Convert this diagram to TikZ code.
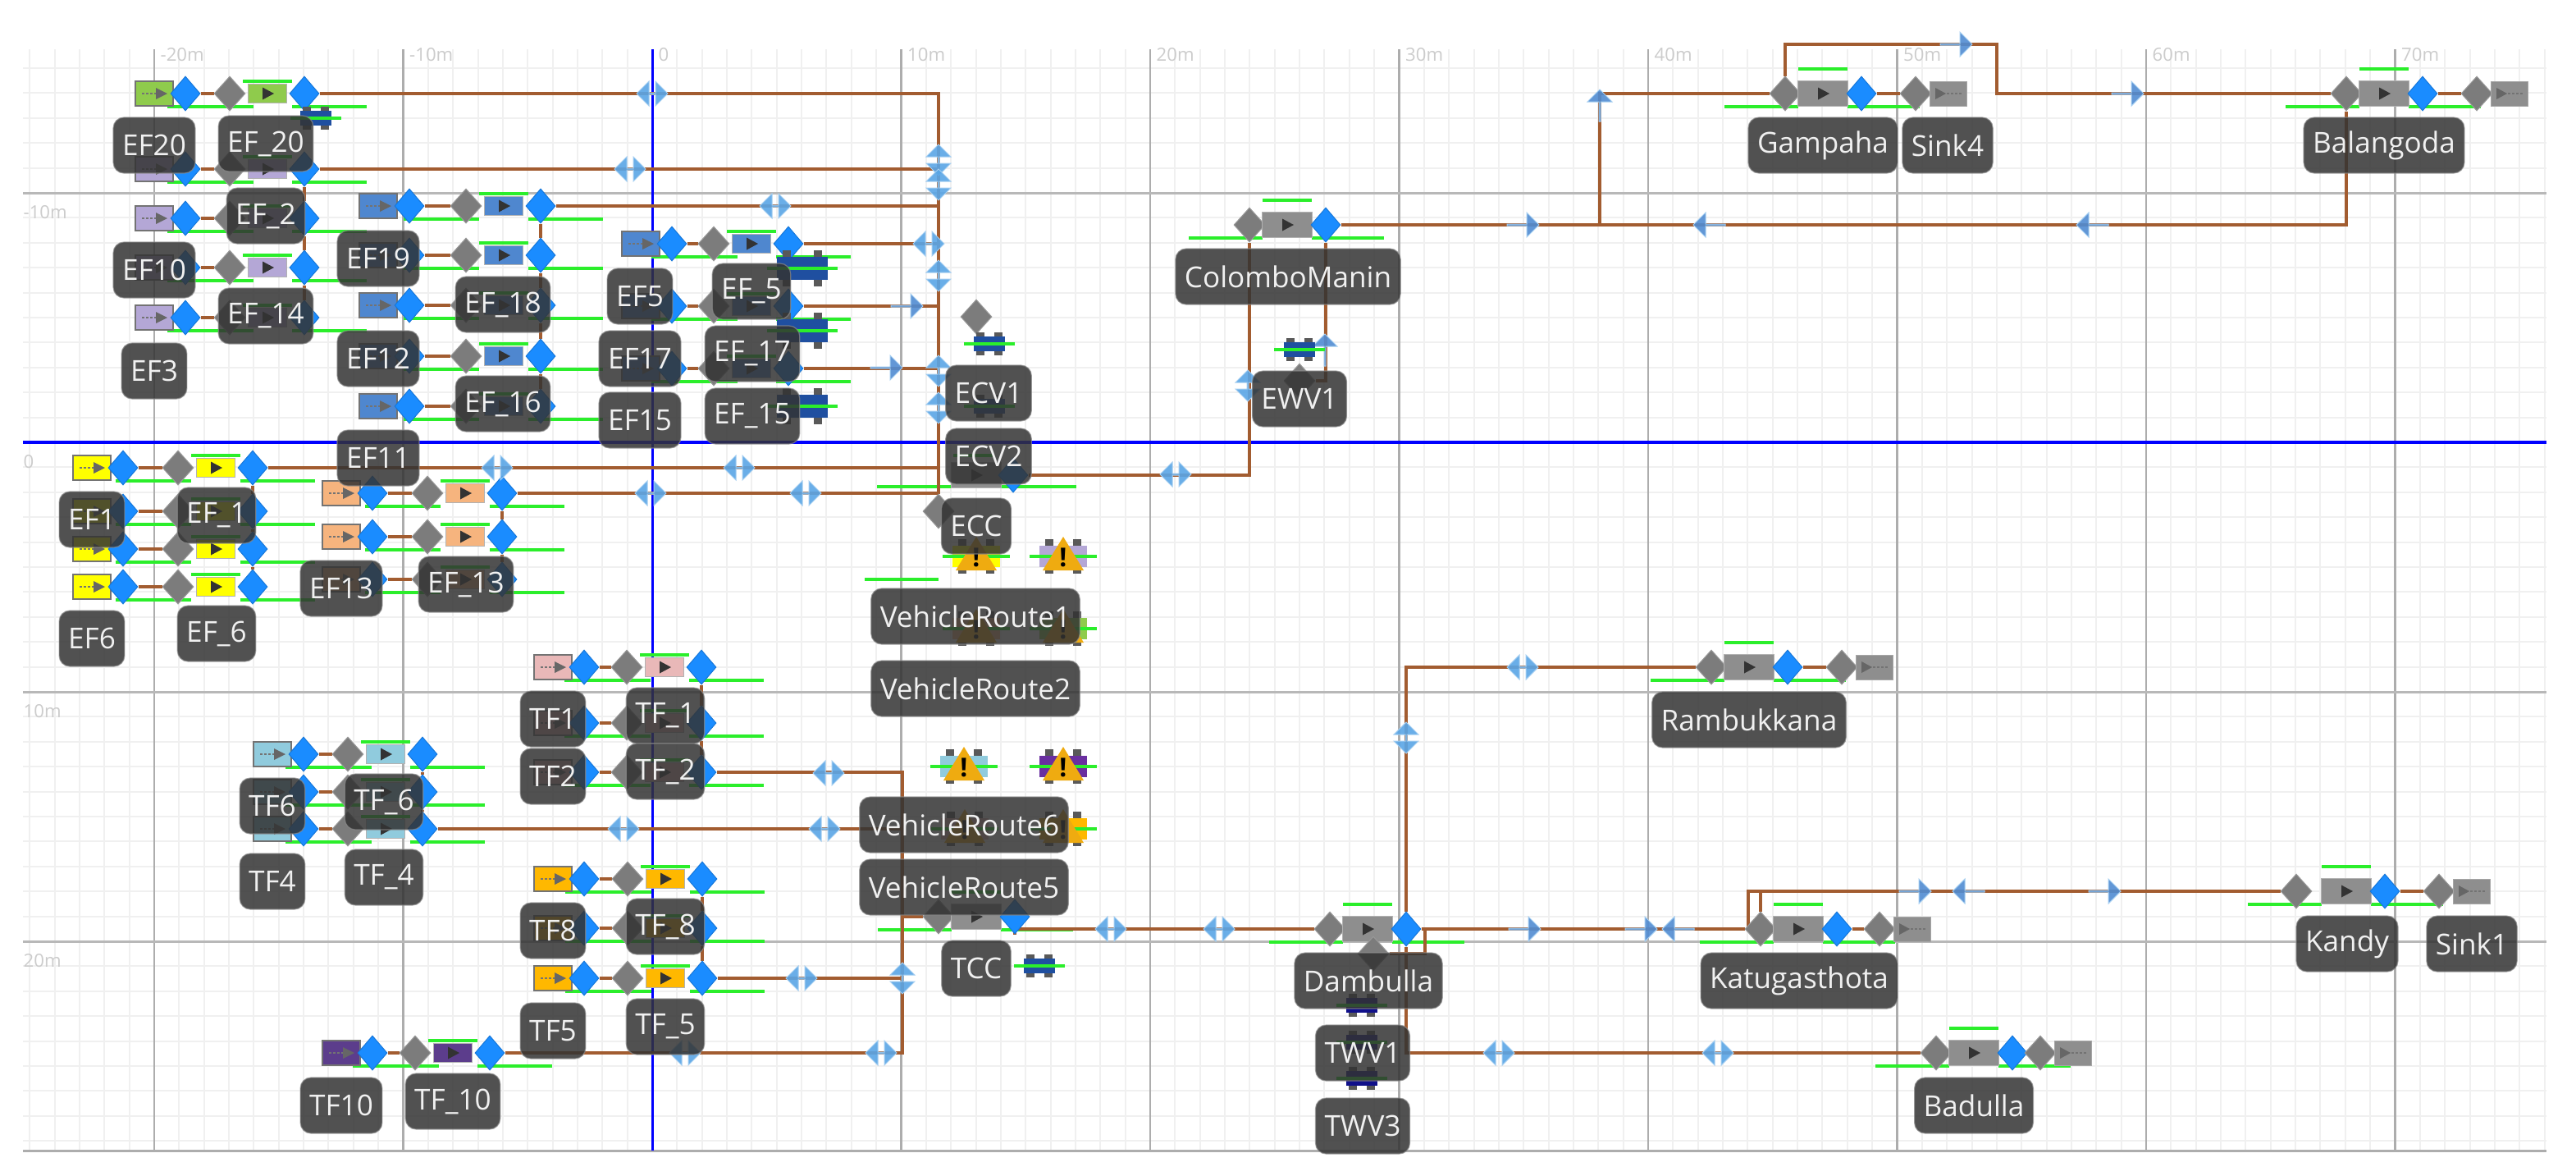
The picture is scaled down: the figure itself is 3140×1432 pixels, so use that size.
\documentclass[tikz,border=0pt]{standalone}
\usepackage{fontspec}
\setmainfont{Open Sans}
\usepackage{xcolor}
\usetikzlibrary{shapes.geometric, shapes.arrows}

\definecolor{linkc}{HTML}{A25C30}
\definecolor{barc}{HTML}{2BEE2B}
\definecolor{dia}{HTML}{1A8CFF}
\definecolor{grayd}{HTML}{7C7C7C}
\definecolor{segc}{HTML}{8E8E8E}
\definecolor{markc}{HTML}{5AA6E6}
\definecolor{vehc}{HTML}{1F4FA0}
\definecolor{navyc}{HTML}{10108A}
\definecolor{limec}{HTML}{8FCB4C}
\definecolor{lilac}{HTML}{B4A7D6}
\definecolor{steel}{HTML}{4F87CF}
\definecolor{yell}{HTML}{FFFF00}
\definecolor{peach}{HTML}{F6B47E}
\definecolor{pinkc}{HTML}{E9B8B8}
\definecolor{aqua}{HTML}{90CBDD}
\definecolor{amber}{HTML}{FFB800}
\definecolor{plum}{HTML}{5C3D8C}
\definecolor{violet}{HTML}{6A2FA0}

\pgfdeclarelayer{grid}
\pgfdeclarelayer{links}
\pgfdeclarelayer{labels}
\pgfsetlayers{grid,links,main,labels}

\tikzset{
  link/.style={draw=linkc, line width=0.4mm},
  bar/.style={draw=barc, line width=0.36mm},
  bluedia/.style={diamond, fill=dia, draw=dia!85!black, line width=0.1mm, inner sep=0pt, minimum width=3.6mm, minimum height=4.2mm},
  graydia/.style={diamond, fill=grayd, draw=gray!80, line width=0.1mm, inner sep=0pt, minimum width=3.8mm, minimum height=4.2mm},
  srcbox/.style={rectangle, draw=black!55, line width=0.12mm, inner sep=0pt, minimum width=4.6mm, minimum height=3mm,
    path picture={
      \draw[black!55, line width=0.25mm, dash pattern=on 0.3mm off 0.2mm] ([xshift=-1.5mm]path picture bounding box.center) -- ([xshift=0.3mm]path picture bounding box.center);
      \fill[black!60] ([xshift=0.2mm,yshift=-0.7mm]path picture bounding box.center) -- ([xshift=0.2mm,yshift=0.7mm]path picture bounding box.center) -- ([xshift=1.6mm]path picture bounding box.center) -- cycle;}},
  sinkbox/.style={rectangle, fill=segc, draw=gray!70, line width=0.1mm, inner sep=0pt, minimum width=4.5mm, minimum height=3mm,
    path picture={
      \fill[black!60] ([xshift=-1.6mm,yshift=-0.7mm]path picture bounding box.center) -- ([xshift=-1.6mm,yshift=0.7mm]path picture bounding box.center) -- ([xshift=-0.3mm]path picture bounding box.center) -- cycle;
      \draw[black!55, line width=0.25mm, dash pattern=on 0.3mm off 0.2mm] ([xshift=-0.2mm]path picture bounding box.center) -- ([xshift=1.7mm]path picture bounding box.center);}},
  segbox/.style={rectangle, draw=gray!60, line width=0.08mm, inner sep=0pt, minimum width=4.7mm, minimum height=2.3mm,
    path picture={
      \fill[black!80] ([xshift=-0.6mm,yshift=-0.75mm]path picture bounding box.center) -- ([xshift=-0.6mm,yshift=0.75mm]path picture bounding box.center) -- ([xshift=0.8mm]path picture bounding box.center) -- cycle;}},
  lbl/.style={rectangle, rounded corners=1.3mm, fill=black!80, fill opacity=.85, text opacity=1, draw=black!45, draw opacity=.7, line width=0.12mm,
    text=white!94!black, inner xsep=1.1mm, inner ysep=0pt, minimum height=6.8mm, font=\fontsize{10}{12}\selectfont},
  linkboth/.style={double arrow, double arrow head extend=0.7mm, fill=markc, draw=markc!55!white, line width=0.1mm, fill opacity=.9, inner sep=0pt, minimum height=3.8mm, minimum width=3mm},
  linkdir/.style={single arrow, single arrow head extend=0.7mm, fill=steel!85!markc, draw=markc!55!white, line width=0.1mm, fill opacity=.9, inner sep=0pt, minimum height=3.9mm, minimum width=3mm},
  tick/.style={text=black!20, inner sep=0pt, anchor=north west, font=\fontsize{6.3}{7}\selectfont},
  warnmark/.style={text=black, inner sep=0pt, font=\fontsize{9}{9}\selectfont\bfseries}
}

% source box, diamonds and segment box of one feeder row
\newcommand{\road}[6][29]{
  \node[srcbox, fill=#6] (#2s) at (#3,#5) {};
  \node[bluedia] (#2a) at (#3+38,#5) {};
  \node[graydia] (#2g) at (#4,#5) {};
  \node[segbox, fill=#6] (#2i) at (#4+46,#5) {};
  \node[bluedia] (#2b) at (#4+91,#5) {};
  \begin{pgfonlayer}{links}
    \draw[link] (#2a) -- (#2g);
    \draw[bar] (#4-76,#5+16) -- (#4+#1,#5+16);
    \draw[bar] (#4+76,#5+16) -- (#4+167,#5+16);
    \draw[bar] (#4+16,#5-15) -- (#4+76,#5-15);
  \end{pgfonlayer}
}

% gray diamond, wide segment box and blue diamond of one named station
\newcommand{\station}[4][46]{
  \node[graydia] (#2g) at (#3-#1,#4) {};
  \node[segbox, fill=segc, minimum width=6.1mm, minimum height=3.1mm] (#2i) at (#3,#4) {};
  \node[bluedia] (#2b) at (#3+47,#4) {};
  \begin{pgfonlayer}{links}
    \draw[bar] (#3-120,#4+16) -- (#3-30,#4+16);
    \draw[bar] (#3+30,#4+16) -- (#3+118,#4+16);
    \draw[bar] (#3-30,#4-30) -- (#3+30,#4-30);
  \end{pgfonlayer}
}

\newcommand{\sink}[3]{
  \node[graydia] (#1t) at (#2,#3) {};
  \node[sinkbox] (#1k) at (#2+40,#3) {};
  \begin{pgfonlayer}{links}
    \draw[link] (#1b) -- (#1t);
  \end{pgfonlayer}
}

\newcommand{\vehicle}[5][38]{
  \fill[black!65] (#3-#1*0.3-5,#4-#1*0.36) rectangle (#3-#1*0.3+5,#4+#1*0.36);
  \fill[black!65] (#3+#1*0.3-5,#4-#1*0.36) rectangle (#3+#1*0.3+5,#4+#1*0.36);
  \node[rectangle, fill=#5, inner sep=0pt, minimum width={#1*0.1mm}, minimum height={#1*0.045mm}] (#2) at (#3,#4) {};
  \draw[bar] (#3-#1*0.5-12,#4) -- (#3+#1*0.5+12,#4);
}

\newcommand{\warned}[4]{
  \vehicle[58]{#1}{#2}{#3}{#4}
  \fill[orange!55!yellow!75!brown] (#2,#3-24) -- (#2+25,#3+17) -- (#2-25,#3+17) -- cycle;
  \node[warnmark] (#1w) at (#2,#3+1) {!};
}

\begin{document}
\begin{tikzpicture}[x=0.1mm, y=-0.1mm]
  \useasboundingbox (0,0) rectangle (3140,1432);

  \begin{pgfonlayer}{grid}
    \fill[white] (0,0) rectangle (3140,1432);
    \foreach \k in {-25,...,76}
      \draw[black!6, line width=0.2mm] (795+30.35*\k,60) -- (795+30.35*\k,1402);
    \foreach \k in {-15,...,28}
      \draw[black!6, line width=0.2mm] (28,539+30.4*\k) -- (3104,539+30.4*\k);
    \foreach \k in {-2,-1,1,2,...,7}
      \draw[black!32, line width=0.24mm] (795+303.5*\k,60) -- (795+303.5*\k,1402);
    \foreach \k in {-1,1,2}
      \draw[black!28, line width=0.3mm] (28,539+304*\k) -- (3104,539+304*\k);
    \draw[black!32, line width=0.3mm] (28,1402) -- (3104,1402);
    \draw[blue, line width=0.3mm] (795,60) -- (795,1402);
    \draw[blue, line width=0.35mm] (28,539) -- (3104,539);
    \foreach \k/\t in {-2/-20m,-1/-10m,0/0,1/10m,2/20m,3/30m,4/40m,5/50m,6/60m,7/70m}
      \node[tick] (gx\k) at (795+303.5*\k+7,58) {\t};
    \foreach \k/\t in {-1/-10m,0/0,1/10m,2/20m}
      \node[tick] (gy\k) at (28,539+304*\k+15) {\t};
  \end{pgfonlayer}

  % lime and lilac feeders
  \road{ef20}{188}{280}{114}{limec}
  \road{ef2}{188}{280}{206}{lilac}
  \road{ef10}{188}{280}{266}{lilac}
  \road{ef14}{188}{280}{326}{lilac}
  \road{ef3}{188}{280}{387}{lilac}
  % steel feeders
  \road[16]{ef19}{461}{568}{251}{steel}
  \road[16]{ef18}{461}{568}{311}{steel}
  \road[16]{ef12}{461}{568}{372}{steel}
  \road[16]{ef16}{461}{568}{434}{steel}
  \road[16]{ef11}{461}{568}{495}{steel}
  \road{ef5}{781}{870}{297}{steel}
  \road{ef17}{781}{870}{373}{steel}
  \road{ef15}{781}{870}{449}{steel}
  % yellow and peach feeders
  \road[16]{ef1}{112}{217}{570}{yell}
  \road[16]{yel2}{112}{217}{623}{yell}
  \road[16]{yel3}{112}{217}{669}{yell}
  \road[16]{ef6}{112}{217}{715}{yell}
  \road[16]{pch1}{416}{521}{601}{peach}
  \road[16]{ef13}{416}{521}{654}{peach}
  \road[16]{pch3}{416}{521}{706}{peach}
  % tf feeders
  \road{tf1}{674}{764}{813}{pinkc}
  \road{tf2}{674}{764}{881}{pinkc}
  \road{pnk3}{674}{764}{941}{pinkc}
  \road{tf6}{332}{424}{919}{aqua}
  \road{aq2}{332}{424}{965}{aqua}
  \road{tf4}{332}{424}{1010}{aqua}
  \road{tf8}{674}{765}{1071}{amber}
  \road{amb2}{674}{765}{1131}{amber}
  \road{tf5}{674}{765}{1192}{amber}
  \road{tf10}{416}{506}{1283}{plum}

  % stations
  \station{gamp}{2222}{114}
  \sink{gamp}{2335}{114}
  \station{bala}{2906}{114}
  \sink{bala}{3019}{114}
  \station{col}{1569}{274}
  \station{ram}{2132}{813}
  \sink{ram}{2245}{813}
  \station{dam}{1667}{1132}
  \station{kat}{2192}{1132}
  \sink{kat}{2291}{1132}
  \station[61]{kan}{2860}{1086}
  \sink{kan}{2973}{1086}
  \station{bad}{2406}{1283}
  \sink{bad}{2487}{1283}
  \station{tcc}{1190}{1117}

  % ecc sits apart from its segment
  \node[graydia] (eccg) at (1144,623) {};
  \node[segbox, fill=segc, minimum width=6.1mm, minimum height=3.1mm] (ecci) at (1190,579) {};
  \node[bluedia] (eccb) at (1235,579) {};
  \node[graydia] (ecv1g) at (1190,386) {};
  \node[graydia] (ewvg) at (1584,464) {};
  \node[graydia] (dam2g) at (1674,1162) {};
  \coordinate (jn) at (1950,274);
  \coordinate (loop) at (2434,54);
  \coordinate (tccj) at (1100,1117);
  \coordinate (damj) at (1737,1132);
  \coordinate (katj) at (2131,1132);

  \begin{pgfonlayer}{links}
    \draw[bar] (1069,593) -- (1159,593);
    \draw[bar] (1221,593) -- (1312,593);
    \draw[bar] (1162,555) -- (1210,555);
    \draw[bar] (1054,706) -- (1144,706);

    \draw[link] (ef20b) -| (eccg);
    \draw[link] (ef2b) -- (ef10b) -- (ef14b) -- (ef3b);
    \draw[link] (ef2b) -- (ef2b -| eccg);
    \draw[link] (ef19b) -- (ef18b) -- (ef12b) -- (ef16b) -- (ef11b);
    \draw[link] (ef19b) -- (ef19b -| eccg);
    \draw[link] (ef5b) -- (ef5b -| eccg);
    \draw[link] (ef17b) -- (ef17b -| eccg);
    \draw[link] (ef15b) -- (ef15b -| eccg);
    \draw[link] (ef1b) -- (yel2b) -- (yel3b) -- (ef6b);
    \draw[link] (ef1b) -- (ef1b -| eccg);
    \draw[link] (pch1b) -- (ef13b) -- (pch3b);
    \draw[link] (pch1b) -- (pch1b -| eccg);
    \draw[link] (tf1b) -- (tf2b) -- (pnk3b);
    \draw[link] (tf6b) -- (aq2b) -- (tf4b);
    \draw[link] (tf8b) -- (amb2b) -- (tf5b);
    \draw[link] (pnk3b) -| (tccj) -- (tccg);
    \draw[link] (tf4b) -- (tf4b -| tccj);
    \draw[link] (tf5b) -- (tf5b -| tccj);
    \draw[link] (tf10b) -| (tccj);
    \draw[link] (tccb) |- (damg);
    \draw[link] (eccb) -| (colg);
    \draw[link] (colb) -| (balag);
    \draw[link] (colb) |- (ewvg);
    \draw[link] (jn) |- (gampg);
    \draw[link] (gampg) |- (loop) |- (balag);
    \draw[link] (damb) -- (katg);
    \draw[link] (damb) |- (ramg);
    \draw[link] (damb) |- (badg);
    \draw[link] (damb) -- (damj) |- (dam2g);
    \draw[link] (katj) |- (kang);
    \draw[link] (katg) |- (kang);
  \end{pgfonlayer}

  % link arrows
  \foreach \mx/\my [count=\mn] in {795/114,768/206,945/251,1132/297,606/570,901/570,793/601,982/601,1433/578,1010/942,760/1010,1005/1010,977/1192,835/1283,1074/1283,1856/813,1827/1283,2094/1283,1354/1132,1486/1132}
    \node[linkboth] (mh\mn) at (\mx,\my) {};
  \foreach \mx/\my [count=\mn] in {1144/195,1144/225,1144/336,1144/452,1144/497,1100/1192,1521/470,1714/899}
    \node[linkboth, rotate=90] (mv\mn) at (\mx,\my) {};
  \foreach \mx/\my [count=\mn] in {1105/373,1080/448,1856/274,1858/1132,2000/1132,2334/1086,2565/1086,2384/54,2593/114}
    \node[linkdir] (mr\mn) at (\mx,\my) {};
  \foreach \mx/\my [count=\mn] in {2084/274,2551/274,2046/1132,2400/1086}
    \node[linkdir, rotate=180] (ml\mn) at (\mx,\my) {};
  \foreach \mx/\my [count=\mn] in {1950/129,1615/427}
    \node[linkdir, rotate=90] (mu\mn) at (\mx,\my) {};

  % vehicles
  \vehicle{vef20}{385}{144}{vehc}
  \vehicle[62]{vef5}{978}{327}{vehc}
  \vehicle[62]{vef17}{978}{403}{vehc}
  \vehicle[62]{vef15}{978}{495}{vehc}
  \vehicle{vecv1}{1206}{419}{vehc}
  \vehicle{vecv2}{1206}{495}{vehc}
  \vehicle{vewv1}{1584}{426}{vehc}
  \vehicle{vtcc}{1267}{1177}{vehc}
  \vehicle{vtwv1}{1660}{1225}{navyc}
  \vehicle{vtwv2}{1660}{1270}{navyc}
  \vehicle{vtwv3}{1660}{1314}{navyc}
  \warned{vr1}{1190}{678}{yell}
  \warned{vr2}{1296}{678}{lilac}
  \warned{vr3}{1190}{766}{peach}
  \warned{vr4}{1296}{766}{limec}
  \warned{vr6}{1175}{934}{aqua}
  \warned{vr7}{1296}{934}{violet}
  \warned{vr8}{1176}{1010}{pinkc}
  \warned{vr5}{1296}{1010}{amber}

  \begin{pgfonlayer}{labels}
    \node[lbl] (lef20) at (188,177) {EF20};
    \node[lbl] (lef20i) at (324,175) {EF\_20};
    \node[lbl] (lef2i) at (324,263) {EF\_2};
    \node[lbl] (lef10) at (188,329) {EF10};
    \node[lbl] (lef14i) at (324,385) {EF\_14};
    \node[lbl] (lef3) at (188,452) {EF3};
    \node[lbl] (lef19) at (461,315) {EF19};
    \node[lbl] (lef18i) at (613,371) {EF\_18};
    \node[lbl] (lef12) at (461,437) {EF12};
    \node[lbl] (lef16i) at (613,492) {EF\_16};
    \node[lbl] (lef11) at (461,558) {EF11};
    \node[lbl] (lef5) at (780,361) {EF5};
    \node[lbl] (lef5i) at (916,355) {EF\_5};
    \node[lbl] (lef17) at (780,437) {EF17};
    \node[lbl] (lef17i) at (917,431) {EF\_17};
    \node[lbl] (lef15) at (780,512) {EF15};
    \node[lbl] (lef15i) at (917,507) {EF\_15};
    \node[lbl] (lef1) at (112,633) {EF1};
    \node[lbl] (lef1i) at (264,628) {EF\_1};
    \node[lbl] (lef6) at (112,778) {EF6};
    \node[lbl] (lef6i) at (264,772) {EF\_6};
    \node[lbl] (lef13) at (416,717) {EF13};
    \node[lbl] (lef13i) at (568,712) {EF\_13};
    \node[lbl] (ltf1) at (674,876) {TF1};
    \node[lbl] (ltf1i) at (811,872) {TF\_1};
    \node[lbl] (ltf2) at (674,946) {TF2};
    \node[lbl] (ltf2i) at (811,940) {TF\_2};
    \node[lbl] (ltf6) at (332,982) {TF6};
    \node[lbl] (ltf6i) at (468,977) {TF\_6};
    \node[lbl] (ltf4) at (332,1074) {TF4};
    \node[lbl] (ltf4i) at (468,1069) {TF\_4};
    \node[lbl] (ltf8) at (674,1134) {TF8};
    \node[lbl] (ltf8i) at (811,1129) {TF\_8};
    \node[lbl] (ltf5) at (674,1256) {TF5};
    \node[lbl] (ltf5i) at (811,1251) {TF\_5};
    \node[lbl] (ltf10) at (416,1347) {TF10};
    \node[lbl] (ltf10i) at (552,1342) {TF\_10};
    \node[lbl] (lecv1) at (1205,479) {ECV1};
    \node[lbl] (lecv2) at (1205,556) {ECV2};
    \node[lbl] (lecc) at (1190,641) {ECC};
    \node[lbl] (lvr1) at (1189,751) {VehicleRoute1};
    \node[lbl] (lvr2) at (1189,839) {VehicleRoute2};
    \node[lbl] (lvr6) at (1175,1005) {VehicleRoute6};
    \node[lbl] (lvr5) at (1175,1081) {VehicleRoute5};
    \node[lbl] (ltcc) at (1190,1180) {TCC};
    \node[lbl] (lcol) at (1570,337) {ColomboManin};
    \node[lbl] (lewv) at (1584,486) {EWV1};
    \node[lbl] (lgamp) at (2222,177) {Gampaha};
    \node[lbl] (lsink4) at (2374,177) {Sink4};
    \node[lbl] (lbala) at (2906,177) {Balangoda};
    \node[lbl] (lram) at (2132,877) {Rambukkana};
    \node[lbl] (ldam) at (1668,1195) {Dambulla};
    \node[lbl] (ltwv1) at (1661,1283) {TWV1};
    \node[lbl] (ltwv3) at (1661,1372) {TWV3};
    \node[lbl] (lkat) at (2193,1195) {Katugasthota};
    \node[lbl] (lkan) at (2861,1150) {Kandy};
    \node[lbl] (lsink1) at (3013,1150) {Sink1};
    \node[lbl] (lbad) at (2406,1347) {Badulla};
  \end{pgfonlayer}
\end{tikzpicture}
\end{document}
